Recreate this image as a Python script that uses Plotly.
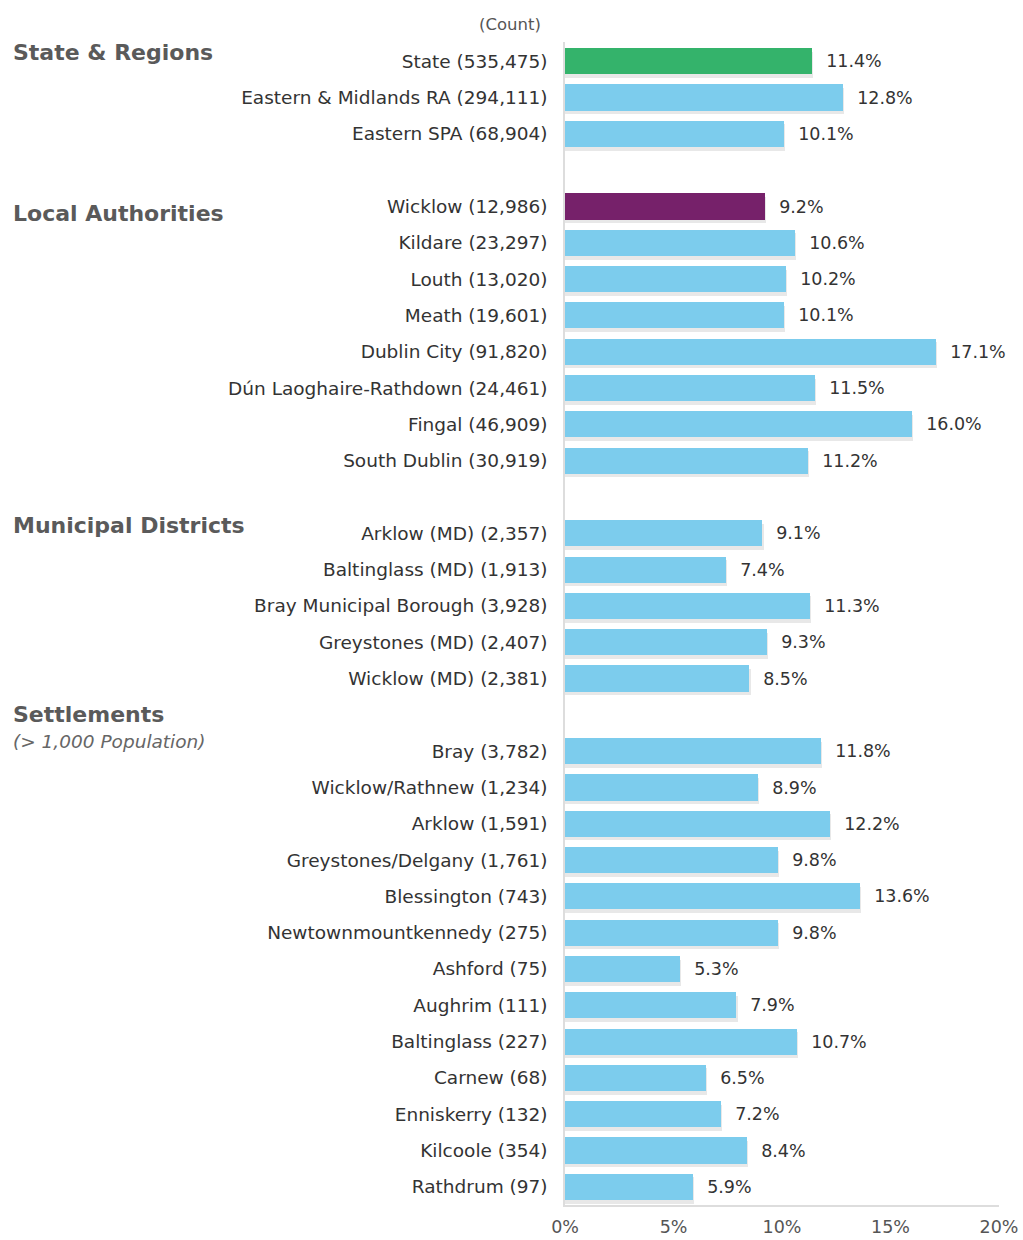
import plotly.graph_objects as go

# ---- data ----
groups = ["State & Regions", "Local Authorities", "Municipal Districts", "Settlements"]
group_sizes = [3, 8, 5, 13]
names = [
    "State", "Eastern & Midlands RA", "Eastern SPA",
    "Wicklow", "Kildare", "Louth", "Meath", "Dublin City", "Dún Laoghaire-Rathdown", "Fingal", "South Dublin",
    "Arklow (MD)", "Baltinglass (MD)", "Bray Municipal Borough", "Greystones (MD)", "Wicklow (MD)",
    "Bray", "Wicklow/Rathnew", "Arklow", "Greystones/Delgany", "Blessington", "Newtownmountkennedy",
    "Ashford", "Aughrim", "Baltinglass", "Carnew", "Enniskerry", "Kilcoole", "Rathdrum",
]
counts = [
    "535,475", "294,111", "68,904",
    "12,986", "23,297", "13,020", "19,601", "91,820", "24,461", "46,909", "30,919",
    "2,357", "1,913", "3,928", "2,407", "2,381",
    "3,782", "1,234", "1,591", "1,761", "743", "275", "75", "111", "227", "68", "132", "354", "97",
]
values = [
    11.4, 12.8, 10.1,
    9.2, 10.6, 10.2, 10.1, 17.1, 11.5, 16.0, 11.2,
    9.1, 7.4, 11.3, 9.3, 8.5,
    11.8, 8.9, 12.2, 9.8, 13.6, 9.8, 5.3, 7.9, 10.7, 6.5, 7.2, 8.4, 5.9,
]
x_ticks = [0, 5, 10, 15, 20]
x_tick_text = ["0%", "5%", "10%", "15%", "20%"]

BLUE = "#7ccced"
GREEN = "#34b36b"
PURPLE = "#76216a"
special_colors = {0: GREEN, 3: PURPLE}

# slot positions (one blank slot between groups)
pos = []
slot = 0
for n in group_sizes:
    for k in range(n):
        pos.append(slot)
        slot += 1
    slot += 1

colors = [special_colors.get(i, BLUE) for i in range(len(names))]
ticktext = [f"{n} ({c})" for n, c in zip(names, counts)]

FONT = "DejaVu Sans"
fig = go.Figure()
# soft shadow
fig.add_trace(go.Bar(
    x=[v + 0.05 for v in values], y=[p + 0.1 for p in pos], orientation="h",
    marker=dict(color="rgba(0,0,0,0.09)", line=dict(width=0)),
    width=0.72, hoverinfo="skip", showlegend=False,
))
fig.add_trace(go.Bar(
    x=values, y=pos, orientation="h",
    marker=dict(color=colors, line=dict(width=0)),
    width=0.72,
    text=[f"{v:.1f}%" for v in values],
    texttemplate="  %{text}",
    textposition="outside", cliponaxis=False,
    textfont=dict(family=FONT, size=17.5, color="#333333"),
    showlegend=False,
))

annotations = []
PL, PT, PB = 565, 42, 1205
H = PB - PT
W = 434
def px_to_paper_x(px):
    return (px - PL) / W
def py_to_paper_y(py):
    return (PB - py) / H

header_py = [52, 213, 525, 715]
for g, py in zip(groups, header_py):
    annotations.append(dict(
        text=g, xref="paper", yref="paper", x=px_to_paper_x(11), y=py_to_paper_y(py),
        xanchor="left", yanchor="middle", showarrow=False,
        font=dict(family=FONT, size=22, color="#5a5a5a", weight="bold"),
    ))
annotations.append(dict(
    text="<i>(&gt; 1,000 Population)</i>", xref="paper", yref="paper",
    x=px_to_paper_x(11), y=py_to_paper_y(741), xanchor="left", yanchor="middle",
    showarrow=False, font=dict(family=FONT, size=18.5, color="#666666"),
))
annotations.append(dict(
    text="(Count)", xref="paper", yref="paper",
    x=px_to_paper_x(543), y=py_to_paper_y(24), xanchor="right", yanchor="middle",
    showarrow=False, font=dict(family=FONT, size=16.5, color="#555555"),
))

fig.update_layout(
    width=1023, height=1240,
    margin=dict(l=PL, r=1023 - PL - W, t=PT, b=1240 - PB, autoexpand=False),
    plot_bgcolor="white", paper_bgcolor="white",
    barmode="overlay", bargap=0,
    annotations=annotations,
    font=dict(family=FONT, color="#333333"),
    xaxis=dict(
        range=[0, 20], tickvals=x_ticks, ticktext=x_tick_text, automargin=False,
        showgrid=False, zeroline=False, showline=True, linecolor="#dddddd", linewidth=1.5,
        tickfont=dict(family=FONT, size=17.5, color="#555555"), ticks="", ticklabelstandoff=5,
    ),
    yaxis=dict(
        range=[31.5, -0.53], tickvals=pos, ticktext=ticktext, automargin=False,
        showgrid=False, zeroline=False, showline=True, linecolor="#dddddd", linewidth=1.5,
        tickfont=dict(family=FONT, size=18.5, color="#333333"), ticks="", ticklabelstandoff=12,
    ),
)

fig.write_html(
    "out.html",
    config={"displayModeBar": False},
    post_script=(
        "document.body.style.margin='0';"
        "document.body.style.overflow='hidden';"
        "document.documentElement.style.overflow='hidden';"
    ),
)
